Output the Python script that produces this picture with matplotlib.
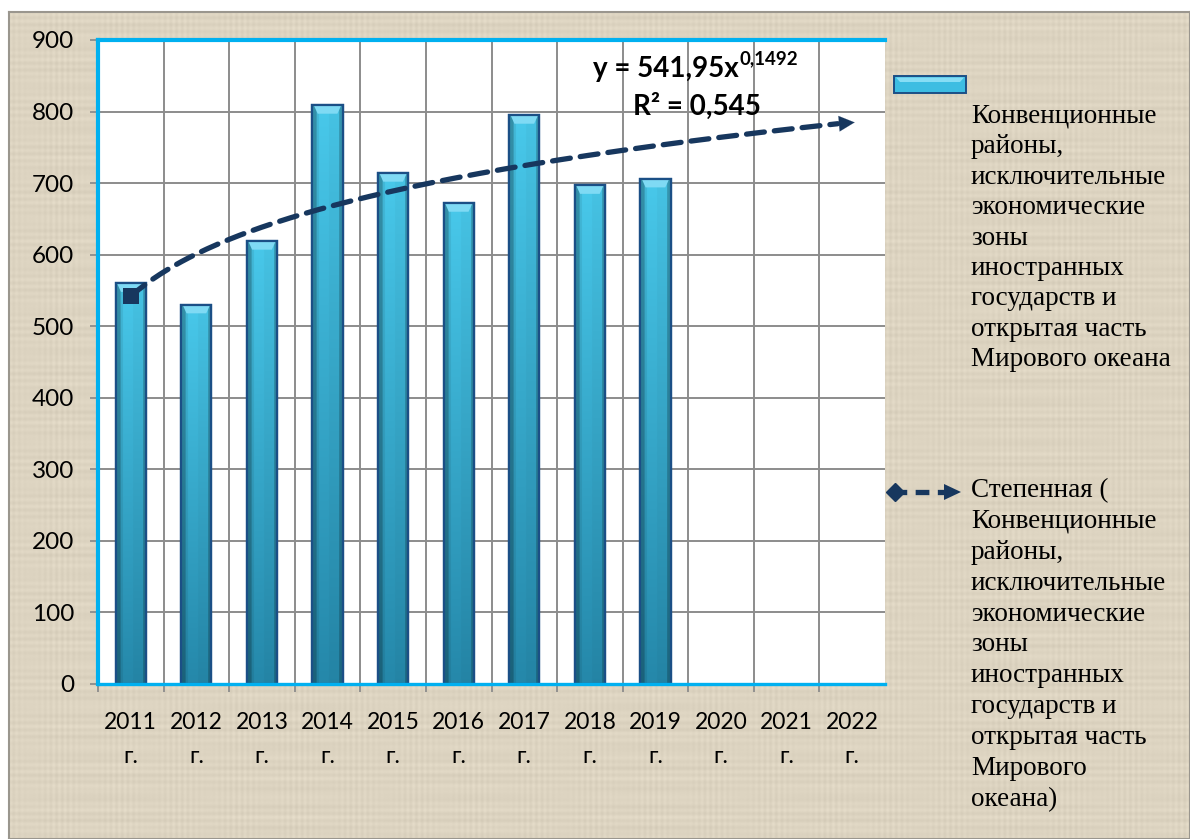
import numpy as np
import matplotlib
matplotlib.use("Agg")
import matplotlib.pyplot as plt
from matplotlib.patches import Rectangle, Polygon
from matplotlib.lines import Line2D
import matplotlib.colors as mcolors

# ---------------- data ----------------
categories = ["2011\nг.", "2012\nг.", "2013\nг.", "2014\nг.", "2015\nг.", "2016\nг.",
              "2017\nг.", "2018\nг.", "2019\nг.", "2020\nг.", "2021\nг.", "2022\nг."]
values = [560, 530, 619, 809, 714, 672, 795, 697, 706]
y_ticks = [0, 100, 200, 300, 400, 500, 600, 700, 800, 900]
trend_a = 541.95
trend_b = 0.1492
trend_label = "y = 541,95x"
trend_exp_label = "0,1492"
r2_label = "R² = 0,545"
legend_bar = ("Конвенционные\nрайоны,\nисключительные\nэкономические\nзоны\nиностранных\n"
              "государств и\nоткрытая часть\nМирового океана")
legend_trend = ("Степенная (\nКонвенционные\nрайоны,\nисключительные\nэкономические\nзоны\n"
                "иностранных\nгосударств и\nоткрытая часть\nМирового\nокеана)")

W, H = 1190, 839
fig = plt.figure(figsize=(W / 100, H / 100), dpi=100)
fig.patch.set_facecolor("white")

def fx(px):
    return px / W

def fy(py):
    return 1 - py / H

# linen-like beige background (deterministic woven pattern)
bgax = fig.add_axes([fx(9), 0, 1 - fx(9), fy(12)])
bgax.set_zorder(0)
hh, ww = 827, 1181
yy = np.arange(hh)[:, None]
xx = np.arange(ww)[None, :]
pat = (0.5 * np.sin(yy * 0.9) * np.sin(yy * 0.071 + 1.0) + 0.5 * np.sin(xx * 1.1) * np.sin(xx * 0.053 + 2.0)
       + 0.3 * np.sin(yy * 0.31) * np.sin(xx * 0.017))
pat = pat / np.abs(pat).max()
base_bg = np.array(mcolors.to_rgb("#DDD4C1"))
tex = np.clip(base_bg[None, None, :] + 0.04 * pat[:, :, None], 0, 1)
bgax.imshow(tex, aspect="auto", interpolation="nearest")
bgax.set_xticks([])
bgax.set_yticks([])
for sp in bgax.spines.values():
    sp.set_color("#9A968E")
    sp.set_linewidth(1.5)

ax = fig.add_axes([fx(98), fy(684), fx(885) - fx(98), fy(40) - fy(684)])
ax.set_facecolor("white")
ax.set_zorder(2)

n = len(categories)
pos = np.arange(n)

# grid
ax.set_yticks(y_ticks)
ax.set_xticks(pos)
ax.set_xticks(np.arange(-0.5, n - 0.5, 1.0), minor=True)
ax.yaxis.grid(True, color="#8C8C8C", lw=1.4, zorder=0)
ax.xaxis.grid(True, which="minor", color="#8C8C8C", lw=1.4, zorder=0)
ax.set_axisbelow(True)

# bars
bar_w = 0.46
bars = ax.bar(pos[:len(values)], values, width=bar_w, color="#35B2D8",
              edgecolor="#1B4F86", lw=1.6, zorder=3)

# gradient fill in bars
top_c = np.array(mcolors.to_rgb("#48C8EA"))
bot_c = np.array(mcolors.to_rgb("#2588AA"))
ny, nx = 64, 40
tv = np.linspace(0, 1, ny)[:, None, None]
base = top_c * (1 - tv) + bot_c * tv
s = np.linspace(0, 1, nx)
hf = np.ones(nx)
hf[s < 0.14] = 0.72
hf[(s >= 0.14) & (s < 0.22)] = 0.92
hf[s > 0.88] = 0.75
hf[(s > 0.55) & (s <= 0.88)] = 0.97
grad = np.clip(base * hf[None, :, None], 0, 1)
for b in bars:
    x0, w, h = b.get_x(), b.get_width(), b.get_height()
    im = ax.imshow(grad, extent=(x0, x0 + w, 0, h), origin="upper", aspect="auto",
                   zorder=3.1, interpolation="bilinear")
    im.set_clip_path(b)
    d = 0.08
    hb = 12
    ax.add_patch(Polygon([(x0 + 0.02, h), (x0 + w - 0.02, h), (x0 + w - d, h - hb), (x0 + d, h - hb)],
                         closed=True, facecolor="#7FDAF4", edgecolor="none", zorder=3.2))
    ax.add_patch(Rectangle((x0, 0), w, h, facecolor="none", edgecolor="#1B4F86", lw=1.6, zorder=3.3))
ax.set_xlim(-0.5, n - 0.5)
ax.set_ylim(0, 900)

# trend line (power trendline y = a * x^b, x = 1..12)
tx = np.linspace(1, n, 200)
ty = trend_a * tx ** trend_b
navy = "#17375E"
ax.plot(tx[:-4] - 1, ty[:-4], color=navy, lw=3.8, dashes=(3.4, 1.9), dash_capstyle="round",
        zorder=5, clip_on=False)
ax.annotate("", xy=(tx[-1] - 1 + 0.08, ty[-1]), xytext=(tx[-6] - 1, ty[-6]),
            arrowprops=dict(arrowstyle="-|>", mutation_scale=28, color=navy, lw=0.1),
            zorder=6, annotation_clip=False)
ax.plot([tx[0] - 1], [ty[0]], marker="s", ms=11, color=navy, zorder=6.5, clip_on=False,
        markeredgewidth=0)

# spines
for side in ["left", "top"]:
    ax.spines[side].set_color("#00B0F0")
    ax.spines[side].set_linewidth(3.0)
ax.spines["bottom"].set_color("#00B0F0")
ax.spines["bottom"].set_linewidth(2.4)
ax.spines["right"].set_visible(False)
for sp in ax.spines.values():
    sp.set_zorder(7)

# ticks
tick_font = "Lato"
ax.tick_params(axis="y", which="major", length=6, width=1.3, color="#8C8C8C", pad=11,
               labelsize=17.5)
ax.tick_params(axis="x", which="major", length=0, pad=20, labelsize=16.5)
ax.tick_params(axis="x", which="minor", length=6, width=1.3, color="#8C8C8C")
ax.set_yticklabels([str(v) for v in y_ticks], fontfamily=tick_font)
ax.set_xticklabels(categories, fontfamily=tick_font, linespacing=1.75)

# trendline equation
eq = fig.text(fx(593), fy(69), trend_label, fontsize=20, fontweight="bold", family="Lato",
              ha="left", va="center", zorder=10)
fig.canvas.draw()
bb = eq.get_window_extent()
fig.text(bb.x1 / W + 0.001, fy(59), trend_exp_label, fontsize=13.5, fontweight="bold",
         family="Lato", ha="left", va="center", zorder=10)
fig.text(fx(697), fy(106), r2_label, fontsize=20, fontweight="bold", family="Lato",
         ha="center", va="center", zorder=10)

# legend (manual)
leg_bar = Rectangle((fx(894), fy(93)), fx(966) - fx(894), fy(76) - fy(93), transform=fig.transFigure,
                    facecolor="#3DBDE2", edgecolor="#1B4F86", lw=1.4, zorder=10)
fig.patches.append(leg_bar)
fig.patches.append(Polygon([(fx(896), fy(77.5)), (fx(964), fy(77.5)), (fx(960), fy(82)), (fx(900), fy(82))],
                           closed=True, transform=fig.transFigure, facecolor="#86DDF5",
                           edgecolor="none", zorder=11))
fig.text(fx(971), fy(104), legend_bar, family="Liberation Serif", fontsize=19.5,
         ha="left", va="top", linespacing=1.285, zorder=10)

fig.lines.append(Line2D([fx(893), fx(948)], [fy(492), fy(492)], transform=fig.transFigure,
                        color=navy, lw=3.8, dashes=(2.6, 1.6), zorder=10))
fig.lines.append(Line2D([fx(895)], [fy(492)], transform=fig.transFigure, marker="D", ms=9,
                        color=navy, zorder=11))
fig.patches.append(Polygon([(fx(944), fy(484)), (fx(961), fy(492)), (fx(944), fy(500))], closed=True,
                           transform=fig.transFigure, facecolor=navy, edgecolor="none", zorder=11))
fig.text(fx(971), fy(478), legend_trend, family="Liberation Serif", fontsize=19.5,
         ha="left", va="top", linespacing=1.31, zorder=10)

fig.savefig("out.png", dpi=100, facecolor=fig.get_facecolor())
